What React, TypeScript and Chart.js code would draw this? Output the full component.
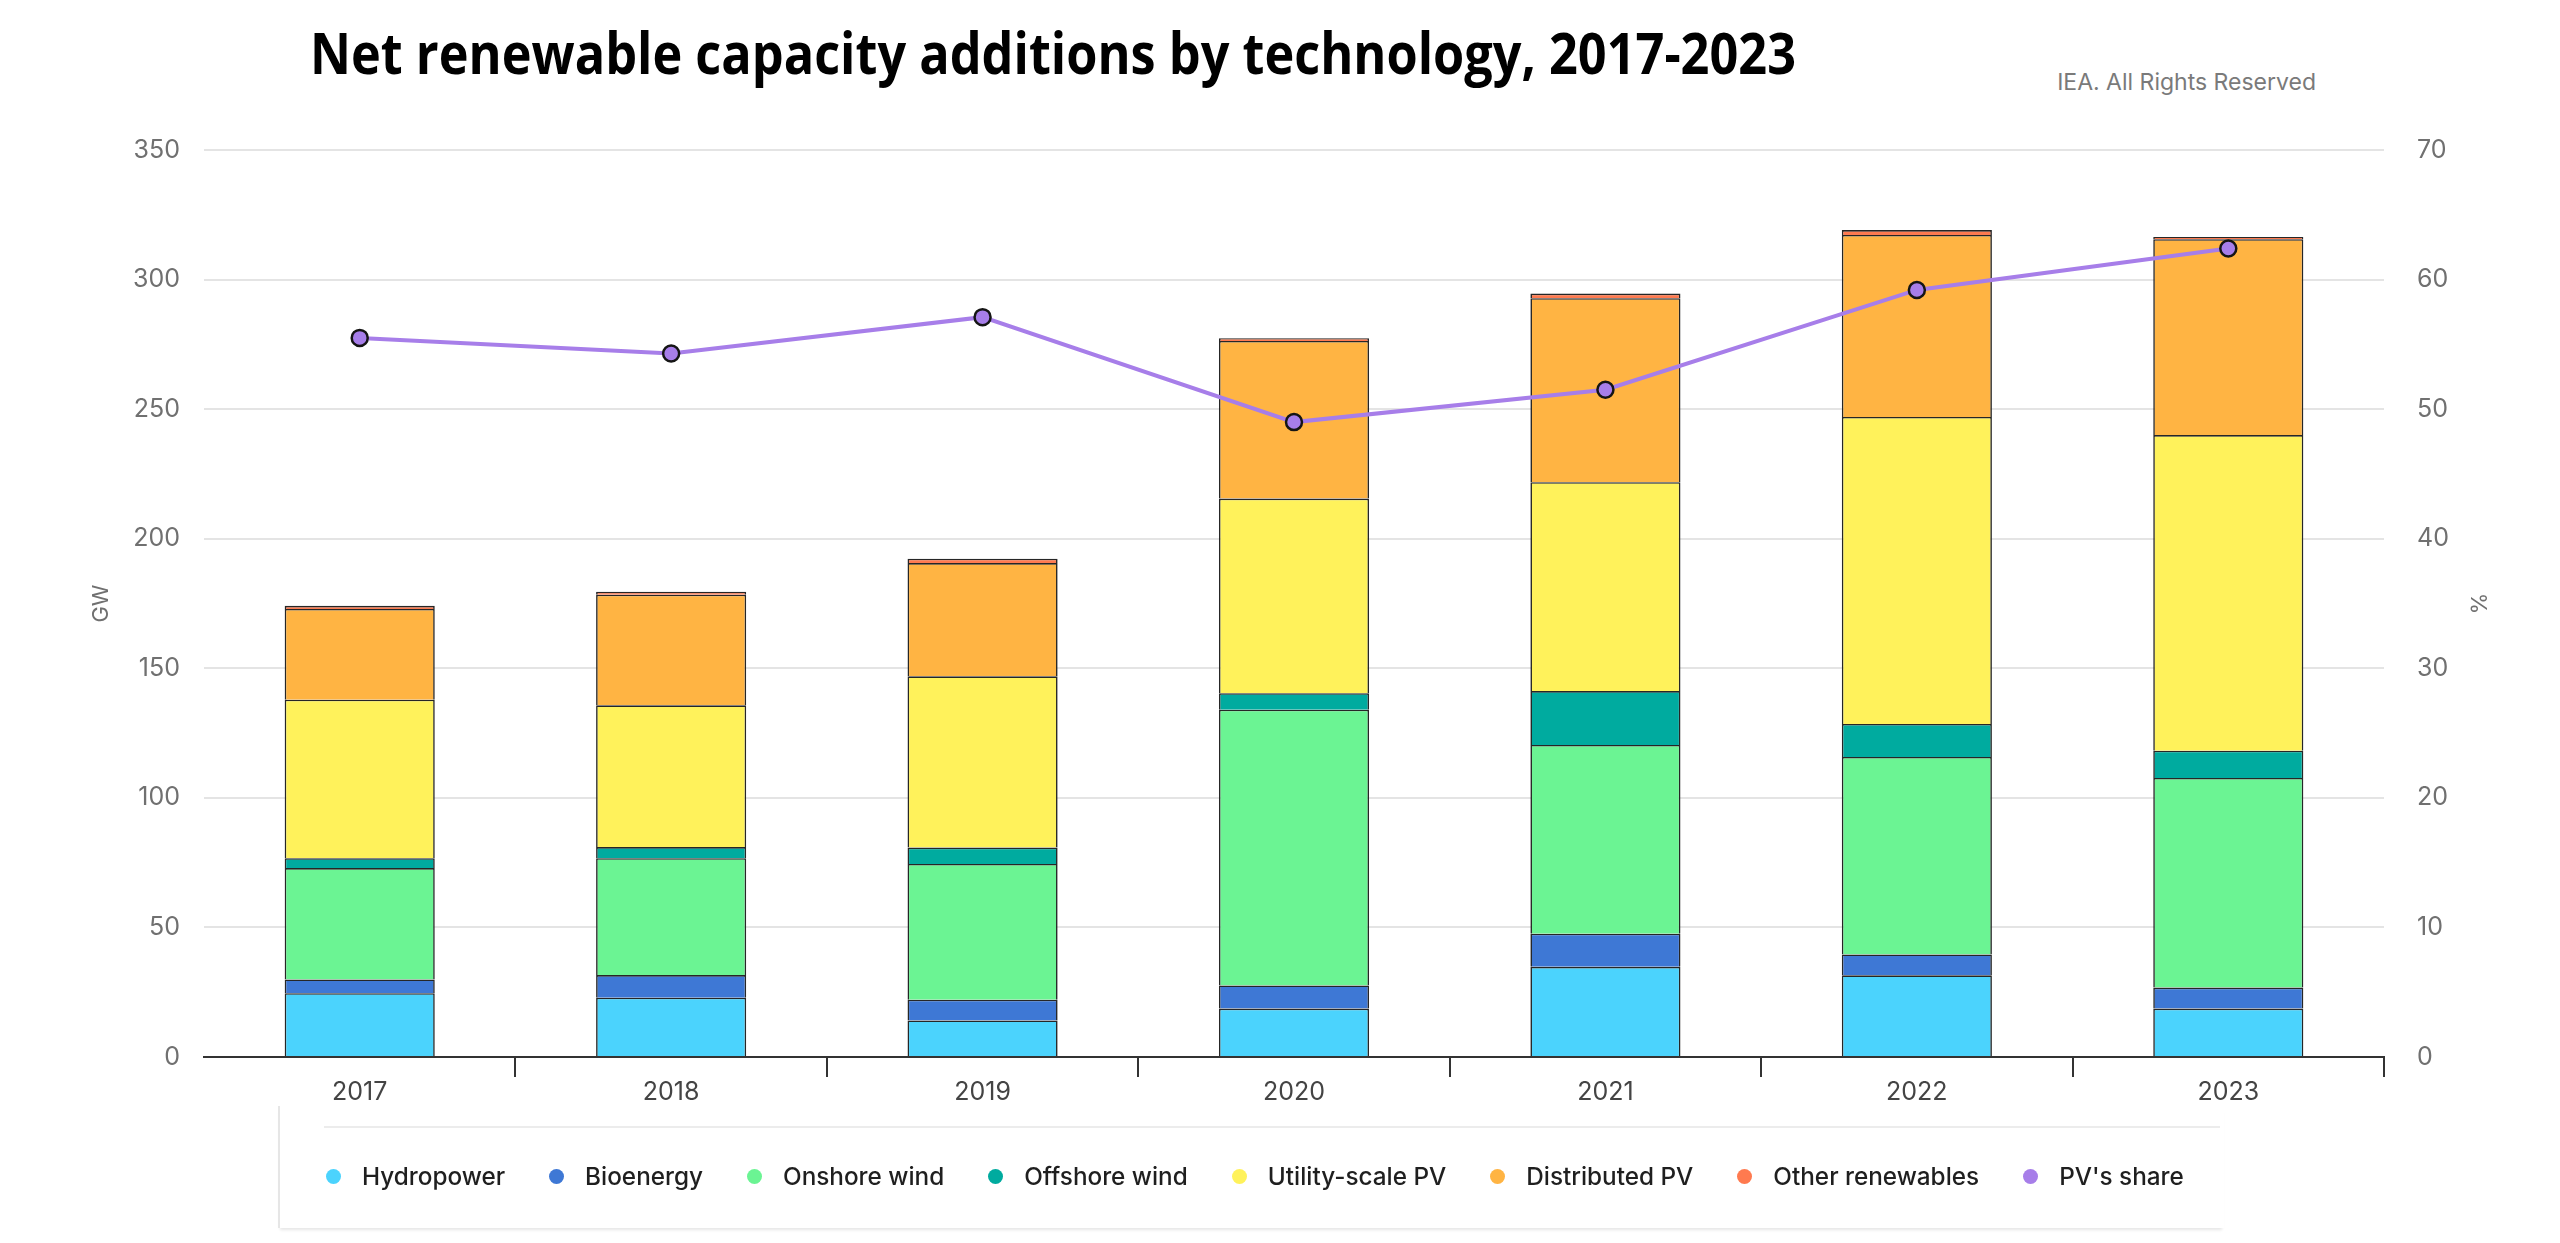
import React, { useEffect, useRef } from "react";
import { Chart, registerables } from "chart.js";

Chart.register(...registerables);

const years = ["2017", "2018", "2019", "2020", "2021", "2022", "2023"];
const hydropower = [24.6, 22.9, 14.1, 18.7, 34.8, 31.5, 18.7];
const bioenergy = [5.3, 8.7, 8.0, 8.9, 12.8, 8.1, 8.1];
const onshoreWind = [43.0, 45.1, 52.4, 106.4, 72.8, 76.2, 80.9];
const offshoreWind = [3.8, 4.3, 6.3, 6.4, 20.8, 12.7, 10.5];
const utilityPV = [61.2, 54.7, 66.1, 75.1, 80.6, 118.5, 121.8];
const distributedPV = [35.0, 42.7, 43.7, 60.8, 71.0, 70.2, 75.6];
const otherRenewables = [1.2, 1.1, 1.7, 1.1, 1.8, 1.9, 0.8];
const pvShare = [55.5, 54.3, 57.1, 49.0, 51.5, 59.2, 62.4];

const gwTicks = { min: 0, max: 350, step: 50 };
const pctTicks = { min: 0, max: 70, step: 10 };

const seriesNames = [
  "Hydropower",
  "Bioenergy",
  "Onshore wind",
  "Offshore wind",
  "Utility-scale PV",
  "Distributed PV",
  "Other renewables",
];
const seriesColors = [
  "#4bd3fd",
  "#3e78d5",
  "#6bf493",
  "#00ab9f",
  "#fff25b",
  "#ffb443",
  "#ff7a4f",
];
const seriesData = [
  hydropower,
  bioenergy,
  onshoreWind,
  offshoreWind,
  utilityPV,
  distributedPV,
  otherRenewables,
];
const lineName = "PV's share";
const lineColor = "#a77ee9";

const FONT = "Inter, 'Noto Sans', sans-serif";

export default function App() {
  const canvasRef = useRef<HTMLCanvasElement | null>(null);
  const titleRef = useRef<HTMLSpanElement | null>(null);

  useEffect(() => {
    const fit = () => {
      const el = titleRef.current;
      if (!el) return;
      el.style.transform = "none";
      const w = el.getBoundingClientRect().width;
      if (w > 0) el.style.transform = `scaleX(${1486 / w})`;
    };
    fit();
    (document as any).fonts?.ready?.then(fit);
  }, []);

  useEffect(() => {
    if (!canvasRef.current) return;
    const barSets = seriesNames.map((name, i) => ({
      type: "bar" as const,
      label: name,
      data: seriesData[i],
      backgroundColor: seriesColors[i],
      borderColor: "#262626",
      borderWidth: 1.6,
      stack: "tech",
      yAxisID: "y",
      order: 1,
      barPercentage: 0.482,
      categoryPercentage: 1,
    }));
    const chart = new Chart(canvasRef.current, {
      type: "bar",
      data: {
        labels: years,
        datasets: [
          {
            type: "line" as const,
            label: lineName,
            data: pvShare,
            yAxisID: "y1",
            borderColor: lineColor,
            backgroundColor: lineColor,
            borderWidth: 4,
            pointRadius: 8,
            pointBackgroundColor: lineColor,
            pointBorderColor: "#151515",
            pointBorderWidth: 2.5,
            tension: 0,
            order: 0,
          } as any,
          ...barSets,
        ],
      },
      options: {
        animation: false,
        responsive: false,
        devicePixelRatio: 1,
        layout: { padding: { left: 88, right: 69, top: 150, bottom: 0 } },
        plugins: {
          legend: { display: false },
          title: { display: false },
          tooltip: { enabled: false },
        },
        scales: {
          x: {
            stacked: true,
            grid: {
              offset: true,
              drawOnChartArea: false,
              drawTicks: true,
              tickLength: 20,
              lineWidth: 2,
              color: (ctx: any) => (ctx.index === 0 ? "rgba(0,0,0,0)" : "#333"),
            },
            border: { color: "#333", width: 2 },
            ticks: { font: { family: FONT, size: 25 }, color: "#444", padding: 0 },
            afterFit: (s: any) => {
              s.height = 53;
            },
          },
          y: {
            stacked: true,
            min: gwTicks.min,
            max: gwTicks.max,
            ticks: {
              stepSize: gwTicks.step,
              font: { family: FONT, size: 25 },
              color: "#707070",
              padding: 24,
            },
            grid: { color: "#e4e4e4", lineWidth: 2, drawTicks: false },
            border: { display: false },
            title: {
              display: true,
              text: "GW",
              font: { family: FONT, size: 22 },
              color: "#707070",
              padding: 0,
            },
            afterFit: (s: any) => {
              s.width = 116;
            },
          },
          y1: {
            position: "right",
            min: pctTicks.min,
            max: pctTicks.max,
            ticks: {
              stepSize: pctTicks.step,
              font: { family: FONT, size: 25 },
              color: "#707070",
              padding: 33,
            },
            grid: { drawOnChartArea: false, drawTicks: false },
            border: { display: false },
            title: {
              display: true,
              text: "%",
              font: { family: FONT, size: 22 },
              color: "#707070",
              padding: 0,
            },
            afterFit: (s: any) => {
              s.width = 107;
            },
          },
        },
      } as any,
    });
    return () => chart.destroy();
  }, []);

  const legendItems = [
    ...seriesNames.map((n, i) => ({ name: n, color: seriesColors[i] })),
    { name: lineName, color: lineColor },
  ];

  return (
    <div
      style={{
        position: "fixed",
        left: 0,
        top: 0,
        width: 2560,
        height: 1243,
        background: "#fff",
        overflow: "hidden",
        fontFamily: FONT,
      }}
    >
      <div
        style={{
          position: "absolute",
          left: 310,
          top: 24,
          whiteSpace: "nowrap",
          fontFamily: "'Open Sans', 'Noto Sans', sans-serif",
          fontWeight: 700,
          fontSize: 57,
          lineHeight: "57px",
          color: "#000",
        }}
      >
        <span
          ref={titleRef}
          style={{ display: "inline-block", transformOrigin: "left center" }}
        >
          Net renewable capacity additions by technology, 2017-2023
        </span>
      </div>
      <div
        style={{
          position: "absolute",
          right: 2560 - 2316,
          top: 68,
          fontSize: 23,
          lineHeight: "28px",
          color: "#7a7a7a",
          whiteSpace: "nowrap",
        }}
      >
        IEA. All Rights Reserved
      </div>
      <canvas
        ref={canvasRef}
        width={2560}
        height={1110}
        style={{ position: "absolute", left: 0, top: 0, width: 2560, height: 1110 }}
      />
      <div
        style={{
          position: "absolute",
          left: 278,
          top: 1106,
          width: 1944,
          height: 122,
          borderLeft: "2px solid #e6e6e6",
          boxShadow: "0 4px 3px -2px rgba(0,0,0,0.10)",
          background: "#fff",
        }}
      >
        <div
          style={{
            position: "absolute",
            left: 44,
            right: 4,
            top: 20,
            height: 2,
            background: "#ececec",
          }}
        />
        <div
          style={{
            position: "absolute",
            left: 46,
            top: 70,
            height: 0,
            display: "flex",
            alignItems: "center",
            gap: 44,
            whiteSpace: "nowrap",
          }}
        >
          {legendItems.map((it) => (
            <div key={it.name} style={{ display: "flex", alignItems: "center" }}>
              <span
                style={{
                  width: 15,
                  height: 15,
                  borderRadius: "50%",
                  background: it.color,
                  display: "inline-block",
                  marginRight: 21,
                }}
              />
              <span style={{ fontSize: 24.3, fontWeight: 500, color: "#1f1f1f" }}>
                {it.name}
              </span>
            </div>
          ))}
        </div>
      </div>
    </div>
  );
}
